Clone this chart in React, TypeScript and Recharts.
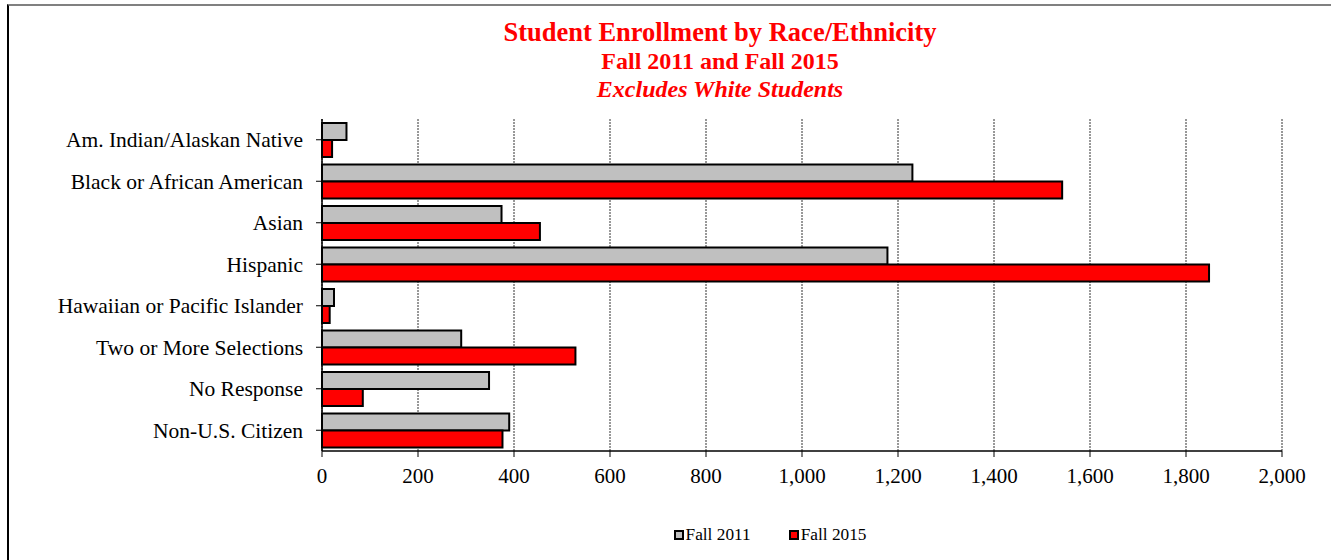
import React from "react";
import {
  BarChart,
  Bar,
  XAxis,
  YAxis,
  CartesianGrid,
  Legend,
} from "recharts";

const categories = [
  "Am. Indian/Alaskan Native",
  "Black or African American",
  "Asian",
  "Hispanic",
  "Hawaiian or Pacific Islander",
  "Two or More Selections",
  "No Response",
  "Non-U.S. Citizen",
];
const fall2011 = [51, 1230, 374, 1178, 25, 290, 348, 390];
const fall2015 = [21, 1542, 454, 1848, 16, 528, 85, 376];
const xTicks = [0, 200, 400, 600, 800, 1000, 1200, 1400, 1600, 1800, 2000];

const data = categories.map((name, i) => ({
  name,
  f2011: fall2011[i],
  f2015: fall2015[i],
}));

const FONT = "'Liberation Serif', 'Times New Roman', serif";

const LegendContent = (props: any) => {
  const items = props.payload || [];
  return (
    <div
      style={{
        display: "flex",
        justifyContent: "center",
        gap: 38,
        fontFamily: FONT,
        fontSize: 17.3,
        color: "#000",
        lineHeight: "20px",
      }}
    >
      {items.map((it: any) => (
        <div key={it.value} style={{ display: "flex", alignItems: "center" }}>
          <span
            style={{
              display: "inline-block",
              width: 6,
              height: 6,
              background: it.color,
              border: "2px solid #000",
              marginRight: 2,
            }}
          />
          <span>{it.value}</span>
        </div>
      ))}
    </div>
  );
};

export default function App() {
  return (
    <div
      style={{
        position: "absolute",
        left: 0,
        top: 0,
        width: 1331,
        height: 560,
        background: "#fff",
        overflow: "hidden",
        fontFamily: FONT,
      }}
    >
      <div
        style={{
          position: "absolute",
          left: 7,
          top: 4,
          width: 1400,
          height: 600,
          borderLeft: "2px solid #000",
          borderTop: "2px solid #808080",
        }}
      />
      <div
        style={{
          position: "absolute",
          left: 320,
          width: 800,
          top: 19,
          textAlign: "center",
          color: "#FF0000",
          fontWeight: "bold",
          lineHeight: 1,
          fontSize: 26.5,
        }}
      >
        Student Enrollment by Race/Ethnicity
      </div>
      <div
        style={{
          position: "absolute",
          left: 320,
          width: 800,
          top: 49,
          textAlign: "center",
          color: "#FF0000",
          fontWeight: "bold",
          lineHeight: 1,
          fontSize: 24,
        }}
      >
        Fall 2011 and Fall 2015
      </div>
      <div
        style={{
          position: "absolute",
          left: 320,
          width: 800,
          top: 77,
          textAlign: "center",
          color: "#FF0000",
          fontWeight: "bold",
          fontStyle: "italic",
          lineHeight: 1,
          fontSize: 24,
        }}
      >
        Excludes White Students
      </div>
      <div style={{ position: "absolute", left: 0, top: 0 }}>
        <BarChart
          width={1331}
          height={560}
          data={data}
          layout="vertical"
          margin={{ top: 119, right: 49, bottom: 0, left: 0 }}
          barGap={0}
          barSize={17}
        >
          <CartesianGrid
            horizontal={false}
            vertical={true}
            stroke="#333"
            strokeDasharray="2 1"
          />
          <XAxis
            type="number"
            dataKey="f2011"
            domain={[0, 2000]}
            ticks={xTicks}
            interval={0}
            tickFormatter={(v: number) => v.toLocaleString("en-US")}
            axisLine={{ stroke: "#000", strokeWidth: 1.5 }}
            tickLine={{ stroke: "#000" }}
            tickSize={6}
            tickMargin={11}
            height={89}
            tick={{ fill: "#000", fontSize: 21, fontFamily: FONT }}
          />
          <XAxis
            xAxisId="top"
            type="number"
            orientation="top"
            domain={[0, 2000]}
            height={0}
            tick={false}
            tickLine={false}
            axisLine={{ stroke: "#909090", strokeWidth: 2 }}
          />
          <YAxis
            type="category"
            dataKey="name"
            width={322}
            interval={0}
            axisLine={{ stroke: "#000", strokeWidth: 1.5 }}
            tickLine={{ stroke: "#000" }}
            tickSize={6}
            tickMargin={13}
            tick={{ fill: "#000", fontSize: 21.5, fontFamily: FONT }}
          />
          <YAxis
            yAxisId="right"
            type="category"
            dataKey="name"
            orientation="right"
            width={0}
            tick={false}
            tickLine={false}
            axisLine={{ stroke: "#909090", strokeWidth: 2 }}
          />
          <Legend
            verticalAlign="bottom"
            content={LegendContent}
            wrapperStyle={{ left: 620, width: 300, top: 525, bottom: "auto" }}
          />
          <Bar
            dataKey="f2011"
            name="Fall 2011"
            fill="#C0C0C0"
            stroke="#000"
            strokeWidth={2}
            isAnimationActive={false}
          />
          <Bar
            dataKey="f2015"
            name="Fall 2015"
            fill="#FF0000"
            stroke="#000"
            strokeWidth={2}
            isAnimationActive={false}
          />
        </BarChart>
      </div>
    </div>
  );
}
